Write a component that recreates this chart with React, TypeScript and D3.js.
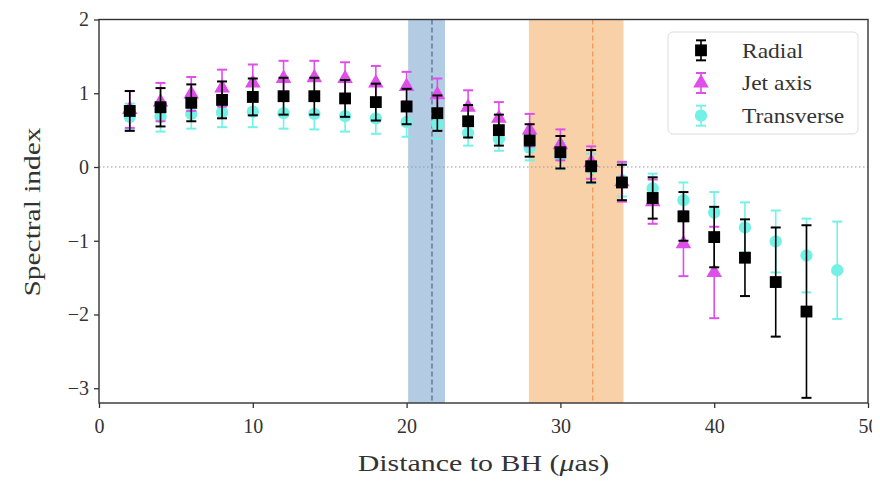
import { useEffect, useRef } from 'react';
import * as d3 from 'd3';

// distances (µas) and spectral index values
const radialX = [2, 4, 6, 8, 10, 12, 14, 16, 18, 20, 22, 24, 26, 28, 30, 32, 34, 36, 38, 40, 42, 44, 46];
const radialY = [0.76, 0.81, 0.87, 0.91, 0.95, 0.96, 0.96, 0.93, 0.88, 0.82, 0.73, 0.62, 0.5, 0.36, 0.2, 0.01, -0.21, -0.42, -0.67, -0.95, -1.23, -1.56, -1.96];
const radialErr = [0.27, 0.26, 0.25, 0.25, 0.25, 0.25, 0.25, 0.25, 0.25, 0.24, 0.24, 0.22, 0.21, 0.22, 0.22, 0.22, 0.24, 0.28, 0.33, 0.41, 0.52, 0.74, 1.17];

const jetX = [2, 4, 6, 8, 10, 12, 14, 16, 18, 20, 22, 24, 26, 28, 30, 32, 34, 36, 38, 40];
const jetY = [0.78, 0.88, 0.99, 1.07, 1.14, 1.2, 1.21, 1.2, 1.14, 1.09, 0.98, 0.81, 0.66, 0.5, 0.3, 0.06, -0.2, -0.47, -1.04, -1.43];
const jetErr = [0.25, 0.26, 0.23, 0.25, 0.25, 0.24, 0.23, 0.22, 0.23, 0.2, 0.22, 0.23, 0.22, 0.22, 0.21, 0.22, 0.27, 0.3, 0.44, 0.62];

const transX = [2, 4, 6, 8, 10, 12, 14, 16, 18, 20, 22, 24, 26, 28, 30, 32, 34, 36, 38, 40, 42, 44, 46, 48];
const transY = [0.68, 0.68, 0.72, 0.74, 0.75, 0.73, 0.72, 0.69, 0.66, 0.61, 0.58, 0.46, 0.38, 0.26, 0.15, -0.02, -0.18, -0.29, -0.45, -0.62, -0.82, -1.01, -1.2, -1.4];
const transErr = [0.18, 0.2, 0.2, 0.2, 0.21, 0.21, 0.21, 0.21, 0.21, 0.2, 0.2, 0.17, 0.16, 0.17, 0.18, 0.2, 0.22, 0.2, 0.24, 0.28, 0.34, 0.42, 0.5, 0.66];

// shaded regions [start, end, dashed centre]
const blueBand = [20.1, 22.5, 21.65];
const orangeBand = [27.95, 34.1, 32.1];

const xTicks = [0, 10, 20, 30, 40, 50];
const yTicks = [2, 1, 0, -1, -2, -3];
const legendLabels = ['Radial', 'Jet axis', 'Transverse'];

const FONT = '"Liberation Serif", "DejaVu Serif", serif';

const App = () => {
  const ref = useRef<SVGSVGElement>(null!);

  useEffect(() => {
    const width = 880;
    const height = 486;
    const m = { left: 99, right: 12, top: 19.5, bottom: 83 };
    const svg = d3.select(ref.current);
    svg.selectAll('*').remove();

    const x = d3.scaleLinear().domain([0, 50]).range([m.left, width - m.right]);
    const y = d3.scaleLinear().domain([-3.2, 2]).range([height - m.bottom, m.top]);

    // faint card outline of the screenshot
    svg
      .append('rect')
      .attr('x', 3.5)
      .attr('y', 1.5)
      .attr('width', width - 7)
      .attr('height', height - 5)
      .attr('rx', 14)
      .attr('fill', 'none')
      .attr('stroke', '#ececec');

    const plot = svg.append('g');

    const band = (b: number[], fill: string, line: string) => {
      plot
        .append('rect')
        .attr('x', x(b[0]))
        .attr('y', y(2))
        .attr('width', x(b[1]) - x(b[0]))
        .attr('height', y(-3.2) - y(2))
        .attr('fill', fill);
      plot
        .append('line')
        .attr('x1', x(b[2]))
        .attr('x2', x(b[2]))
        .attr('y1', y(2))
        .attr('y2', y(-3.2))
        .attr('stroke', line)
        .attr('stroke-width', 1.2)
        .attr('stroke-dasharray', '5,3');
    };
    band(blueBand, '#b3cbe3', '#52698a');
    band(orangeBand, '#f9d1a9', '#ef9550');

    // zero reference line
    plot
      .append('line')
      .attr('x1', x(0))
      .attr('x2', x(50))
      .attr('y1', y(0))
      .attr('y2', y(0))
      .attr('stroke', '#999')
      .attr('stroke-width', 1.1)
      .attr('stroke-dasharray', '1.5,2.5');

    const series = (
      xs: number[],
      ys: number[],
      es: number[],
      color: string,
      marker: 'square' | 'triangle' | 'circle',
      g: d3.Selection<SVGGElement, unknown, null, undefined>,
      cx: (v: number) => number,
      cy: (v: number) => number,
    ) => {
      const pts = xs.map((v, i) => ({ x: v, y: ys[i], e: es[i] }));
      const cap = 5;
      const grp = g.append('g');
      grp
        .selectAll('line.bar')
        .data(pts)
        .enter()
        .append('line')
        .attr('x1', d => cx(d.x))
        .attr('x2', d => cx(d.x))
        .attr('y1', d => cy(d.y - d.e))
        .attr('y2', d => cy(d.y + d.e))
        .attr('stroke', color)
        .attr('stroke-width', 1.6);
      [1, -1].forEach(s => {
        grp
          .selectAll(`line.cap${s}`)
          .data(pts)
          .enter()
          .append('line')
          .attr('x1', d => cx(d.x) - cap)
          .attr('x2', d => cx(d.x) + cap)
          .attr('y1', d => cy(d.y + s * d.e))
          .attr('y2', d => cy(d.y + s * d.e))
          .attr('stroke', color)
          .attr('stroke-width', 2);
      });
      const sym =
        marker === 'square' ? d3.symbolSquare : marker === 'triangle' ? d3.symbolTriangle : d3.symbolCircle;
      const size = marker === 'square' ? 140 : marker === 'triangle' ? 105 : 120;
      grp
        .selectAll('path.pt')
        .data(pts)
        .enter()
        .append('path')
        .attr('d', d3.symbol().type(sym).size(size)())
        .attr('transform', d => `translate(${cx(d.x)},${cy(d.y)})`)
        .attr('fill', color);
    };

    const cyan = '#74f1e6';
    const magenta = '#de4fe9';
    const black = '#000';
    series(transX, transY, transErr, cyan, 'circle', plot, x, y);
    series(jetX, jetY, jetErr, magenta, 'triangle', plot, x, y);
    series(radialX, radialY, radialErr, black, 'square', plot, x, y);

    // frame
    svg
      .append('rect')
      .attr('x', x(0))
      .attr('y', y(2))
      .attr('width', x(50) - x(0))
      .attr('height', y(-3.2) - y(2))
      .attr('fill', 'none')
      .attr('stroke', '#333')
      .attr('stroke-width', 1.4);

    const xAxis = svg
      .append('g')
      .attr('transform', `translate(0,${y(-3.2)})`)
      .call(d3.axisBottom(x).tickValues(xTicks).tickSize(5).tickFormat(d3.format('d')));
    const yAxis = svg
      .append('g')
      .attr('transform', `translate(${x(0)},0)`)
      .call(
        d3
          .axisLeft(y)
          .tickValues(yTicks)
          .tickSize(5)
          .tickFormat(d => (Number(d) < 0 ? `\u2212${Math.abs(Number(d))}` : `${d}`)),
      );
    [xAxis, yAxis].forEach(a => {
      a.select('.domain').remove();
      a.selectAll('line').attr('stroke', '#333').attr('stroke-width', 1.3);
      a.selectAll('text').attr('font-family', FONT).attr('font-size', 20).attr('fill', '#333');
    });
    xAxis.selectAll('text').attr('dy', '1.1em');
    yAxis.selectAll('text').attr('dx', '-0.1em');

    // Computer Modern is wider than Times: stretch the labels horizontally
    svg
      .append('text')
      .attr('transform', `translate(${x(25)},471) scale(1.3,1)`)
      .attr('text-anchor', 'middle')
      .attr('font-family', FONT)
      .attr('font-size', 23)
      .attr('fill', '#333')
      .html('Distance to BH (<tspan font-style="italic">μ</tspan>as)');

    svg
      .append('text')
      .attr('transform', `translate(40,212) rotate(-90) scale(1.28,1)`)
      .attr('text-anchor', 'middle')
      .attr('font-family', FONT)
      .attr('font-size', 23)
      .attr('fill', '#333')
      .text('Spectral index');

    // legend
    const lg = svg.append('g').attr('transform', 'translate(668,32)');
    lg.append('rect')
      .attr('width', 190)
      .attr('height', 102)
      .attr('rx', 5)
      .attr('fill', 'rgba(255,255,255,0.85)')
      .attr('stroke', '#ddd');
    const legendStyle = [
      { color: black, marker: 'square' as const },
      { color: magenta, marker: 'triangle' as const },
      { color: cyan, marker: 'circle' as const },
    ];
    const ly = d3.scaleBand<string>().domain(legendLabels).range([2, 100]);
    legendLabels.forEach((label, i) => {
      const cyl = (ly(label) ?? 0) + ly.bandwidth() / 2;
      const g = lg.append('g').attr('transform', `translate(33,${cyl})`);
      series([0], [0], [1], legendStyle[i].color, legendStyle[i].marker, g, () => 0, v => -v * 10);
      lg.append('text')
        .attr('transform', `translate(74,${cyl}) scale(1.12,1)`)
        .attr('dy', '0.35em')
        .attr('font-family', FONT)
        .attr('font-size', 21)
        .attr('fill', '#333')
        .text(label);
    });

    svg.attr('width', width).attr('height', height);
  }, []);

  return <svg ref={ref} style={{ display: 'block', margin: '-8px' }}></svg>;
};

export default App;
